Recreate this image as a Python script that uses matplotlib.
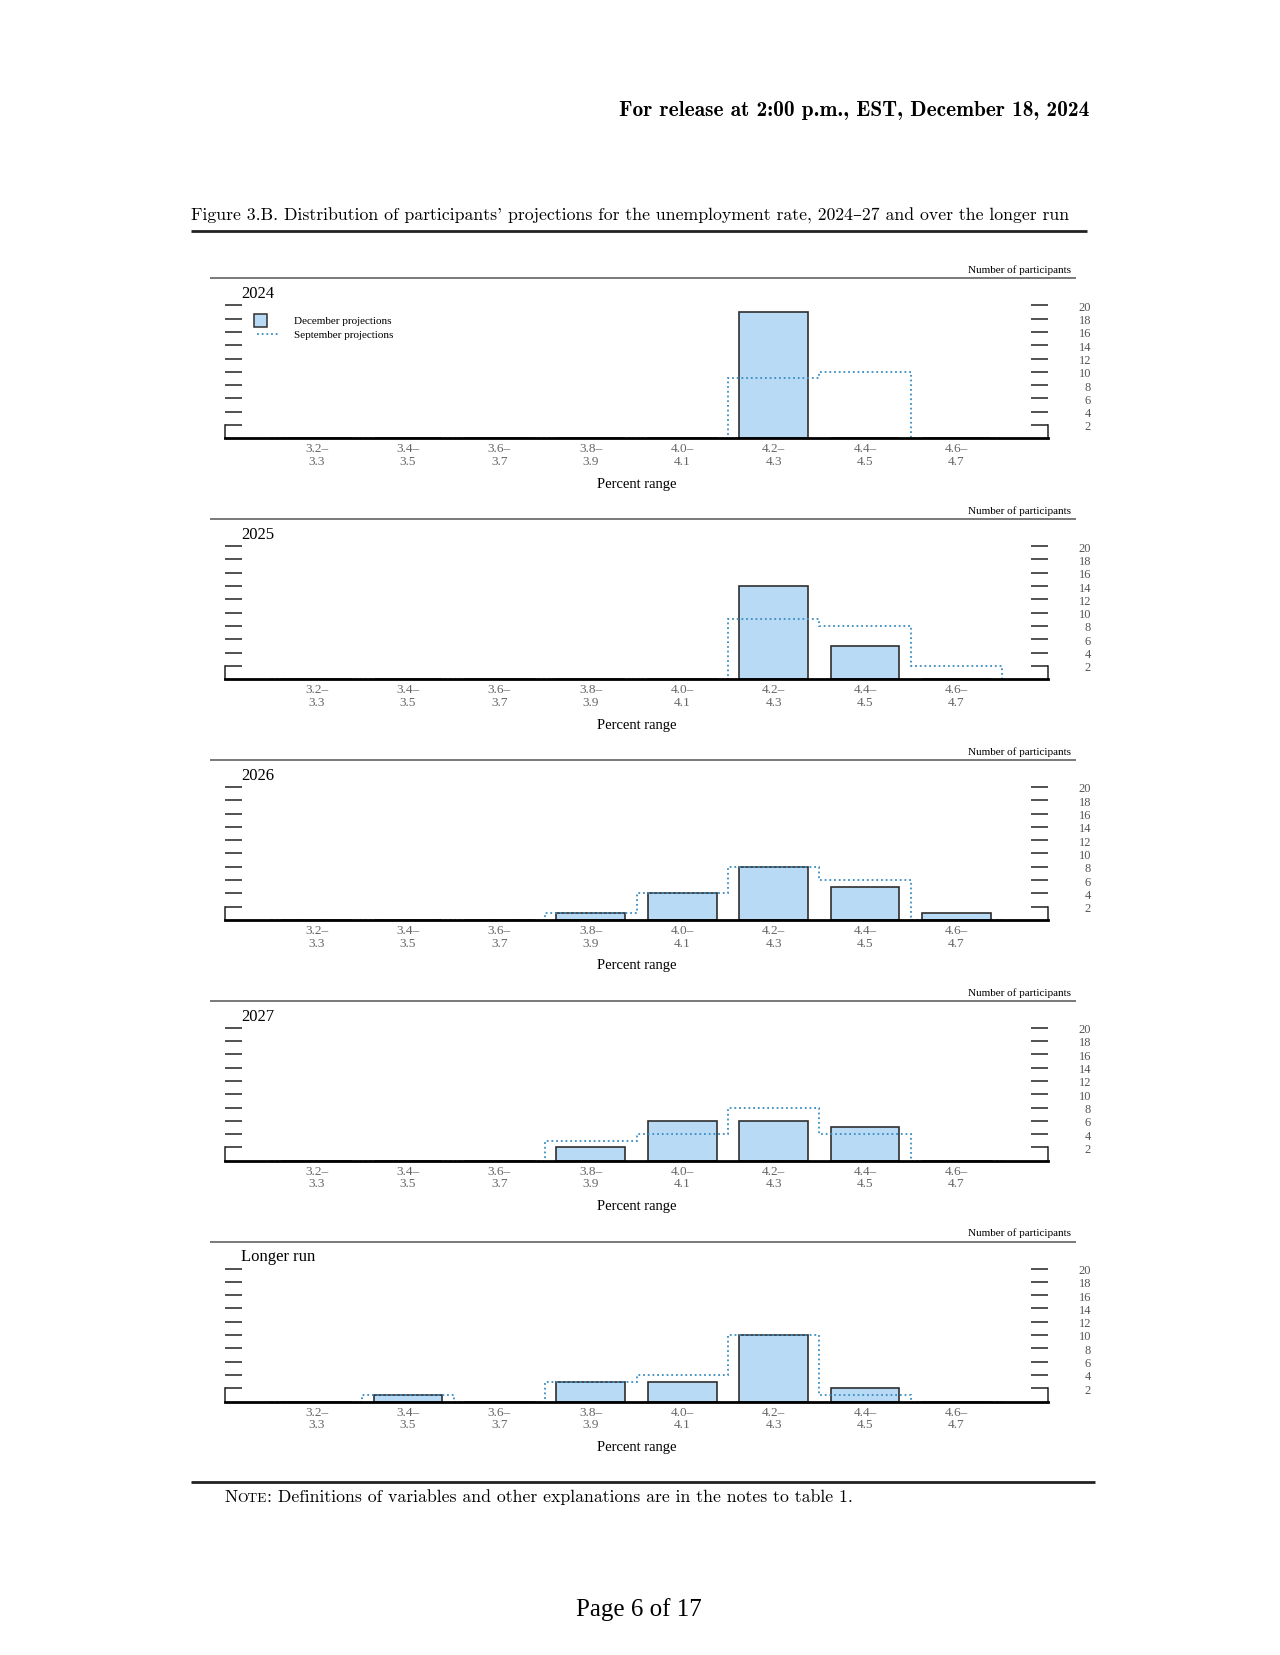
import numpy as np
import matplotlib.pyplot as plt
from matplotlib.patches import Rectangle
from matplotlib.lines import Line2D

# percent-range bins
bins = ["3.2–\n3.3", "3.4–\n3.5", "3.6–\n3.7", "3.8–\n3.9", "4.0–\n4.1",
        "4.2–\n4.3", "4.4–\n4.5", "4.6–\n4.7"]
panels = ["2024", "2025", "2026", "2027", "Longer run"]

# number of participants, December projections
dec_2024 = [0, 0, 0, 0, 0, 19, 0, 0]
dec_2025 = [0, 0, 0, 0, 0, 14, 5, 0]
dec_2026 = [0, 0, 0, 1, 4, 8, 5, 1]
dec_2027 = [0, 0, 0, 2, 6, 6, 5, 0]
dec_lr = [0, 1, 0, 3, 3, 10, 2, 0]

# September projections
sep_2024 = [0, 0, 0, 0, 0, 9, 10, 0]
sep_2025 = [0, 0, 0, 0, 0, 9, 8, 2]
sep_2026 = [0, 0, 0, 1, 4, 8, 6, 0]
sep_2027 = [0, 0, 0, 3, 4, 8, 4, 0]
sep_lr = [0, 1, 0, 3, 4, 10, 1, 0]

dec_all = [dec_2024, dec_2025, dec_2026, dec_2027, dec_lr]
sep_all = [sep_2024, sep_2025, sep_2026, sep_2027, sep_lr]

W, H = 1280, 1656
BAR_C = "#b9daf4"
EDGE_C = "#2f2f2f"
SEP_C = "#3a8dc2"
SERIF = ["Liberation Serif", "DejaVu Serif"]
CM = ["cmr10", "DejaVu Serif"]
CMB = ["cmb10", "DejaVu Serif"]


def fx(x):
    return x / W


def fy(y):
    return 1 - y / H


fig = plt.figure(figsize=(W / 100, H / 100), dpi=100)


def hline(x0, x1, y, lw, color):
    fig.add_artist(Line2D([fx(x0), fx(x1)], [fy(y), fy(y)], transform=fig.transFigure,
                          lw=lw, color=color, solid_capstyle="butt"))


# header and title
fig.text(fx(1089), fy(111), "For release at 2:00 p.m., EST, December 18, 2024",
         family=CMB, fontsize=15.4, ha="right", va="center")
fig.text(fx(191), fy(216), "Figure 3.B. Distribution of participants' projections for the "
         "unemployment rate, 2024–27 and over the longer run",
         family=CM, fontsize=12.75, ha="left", va="center")
hline(191, 1087, 232, 2.0, "#222")

x = np.arange(len(bins))
edges = np.arange(-0.5, len(bins), 1.0)
base0 = 439.3
step = 240.8

for i, name in enumerate(panels):
    base = base0 + i * step
    top = base - 133
    ax = fig.add_axes([fx(225), fy(base), fx(1048) - fx(225), (base - top) / H])
    ax.bar(x, dec_all[i], width=0.75, color=BAR_C, edgecolor=EDGE_C, linewidth=1.2, zorder=1)
    ax.stairs(sep_all[i], edges, baseline=0, color=SEP_C, linestyle=(0, (1, 1.6)),
              linewidth=1.3, zorder=2)
    ax.set_xlim(-1, 8)
    ax.set_ylim(0, 20)
    ax.set_xticks(x, bins)
    ax.set_yticks(range(2, 21, 2))
    ax.tick_params(axis="x", length=0, pad=3, labelsize=9.5, labelcolor="#666")
    for lab in ax.get_xticklabels():
        lab.set_family(SERIF)
        lab.set_linespacing(1.05)
    ax.tick_params(axis="y", left=True, right=True, direction="in", length=12,
                   width=1.1, color="#222", labelleft=False, labelright=True,
                   labelsize=9, labelcolor="#555", pad=31)
    for t in ax.yaxis.get_major_ticks():
        t.label2.set_ha("right")
        t.label2.set_family(SERIF)
    ax.spines["top"].set_visible(False)
    ax.spines["left"].set_bounds(0, 2)
    ax.spines["right"].set_bounds(0, 2)
    ax.spines["bottom"].set_linewidth(2.0)
    for s in ["left", "right"]:
        ax.spines[s].set_linewidth(1.1)
        ax.spines[s].set_color("#222")
    ax.set_facecolor("none")

    hline(210, 1076, base - 160, 1.1, "#555")
    fig.text(fx(1071), fy(base - 169), "Number of participants", family=SERIF,
             fontsize=8, ha="right", va="center")
    fig.text(fx(241), fy(base - 145), name, family=SERIF, fontsize=12,
             ha="left", va="center")
    fig.text(fx(637), fy(base + 45), "Percent range", family=SERIF, fontsize=10.5,
             ha="center", va="center")

# legend in the first panel
fig.add_artist(Rectangle((fx(254), fy(328)), 13 / W, 13 / H, transform=fig.transFigure,
                         fc=BAR_C, ec=EDGE_C, lw=1.1))
fig.add_artist(Line2D([fx(257), fx(278)], [fy(335), fy(335)], transform=fig.transFigure,
                      color=SEP_C, linestyle=(0, (1, 1.6)), lw=1.3))
fig.text(fx(294), fy(321.5), "December projections", family=SERIF, fontsize=8,
         ha="left", va="center")
fig.text(fx(294), fy(335), "September projections", family=SERIF, fontsize=8,
         ha="left", va="center")

# note with small caps
hline(191, 1095, 1483, 2.0, "#222")
r = fig.canvas.get_renderer()
xpos = 224
for part, size in [("N", 12.75), ("OTE", 9.7), (": Definitions of variables and other "
                                                "explanations are in the notes to table 1.", 12.75)]:
    t = fig.text(fx(xpos), fy(1502), part, family=CM, fontsize=size, ha="left",
                 va="baseline")
    xpos += t.get_window_extent(renderer=r).width

fig.text(fx(639), fy(1610), "Page 6 of 17", family=SERIF, fontsize=18, ha="center",
         va="center")

fig.savefig("out.png", dpi=100)
